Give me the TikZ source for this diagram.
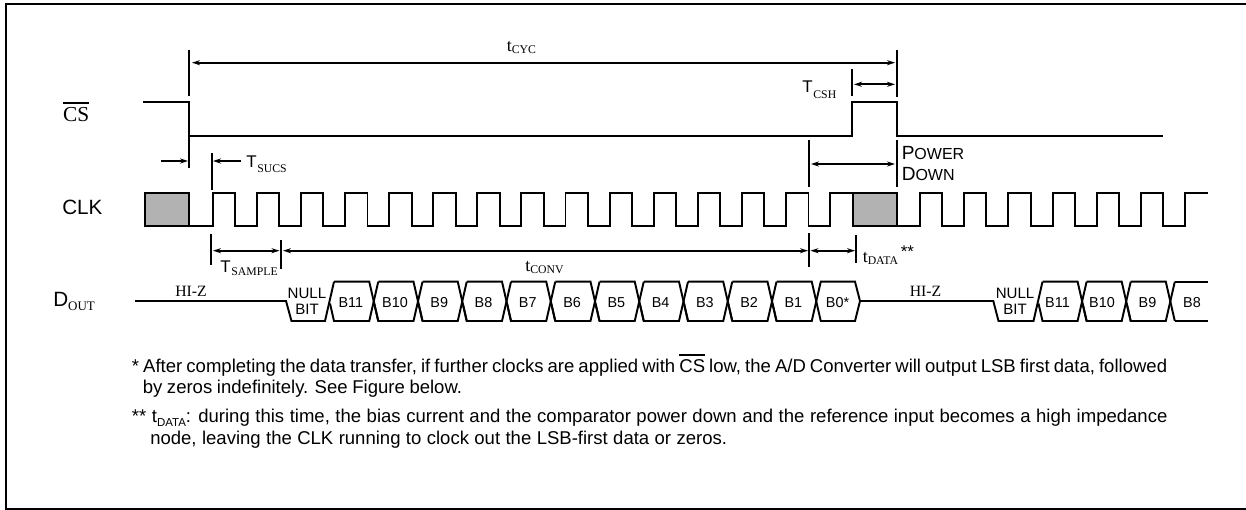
\documentclass[tikz,border=0pt]{standalone}
\usepackage{fontspec}
\usetikzlibrary{arrows.meta}
\setmainfont{Liberation Sans}
\newfontfamily\serifface{Liberation Serif}
\tikzset{
  x=0.75pt,y=-0.75pt,
  wave/.style={line width=1.45pt,line join=miter},
  dim/.style={line width=1.4pt},
  arr/.style={line width=1.4pt,{Stealth[length=6pt,width=3.8pt]}-{Stealth[length=6pt,width=3.8pt]}},
  arrone/.style={line width=1.4pt,-{Stealth[length=6pt,width=3.8pt]}},
  lab/.style={inner sep=0pt,anchor=base west},
  bits/.style={inner sep=0pt,font=\fontsize{10.8pt}{12pt}\selectfont},
  nullbit/.style={inner sep=0pt,align=center,font=\fontsize{11.3pt}{12.4pt}\selectfont},
  note/.style={inner sep=0pt,anchor=base west,font=\fontsize{13.9pt}{16pt}\selectfont},
}
\newcommand{\subsc}[2][4.2pt]{{\serifface\fontsize{8.8pt}{9pt}\selectfont\raisebox{-#1}{#2}}}
\newcommand{\tlab}[2][4.2pt]{{\fontsize{12.7pt}{14pt}\selectfont T}\hspace{0.6pt}\subsc[#1]{#2}}
\newcommand{\slab}[1]{{\serifface\fontsize{13.5pt}{14pt}\selectfont t}\subsc[1.2pt]{#1}}
\newcommand{\hiz}{{\serifface\fontsize{11.8pt}{14pt}\selectfont HI-Z}}
\newcommand{\nsub}[1]{\raisebox{-2.8pt}{\fontsize{8.6pt}{9pt}\selectfont #1}}
\newcommand{\ovl}[2]{\setbox0\hbox{#2}\rlap{\raisebox{#1}{\rule{\wd0}{1.4pt}}}\box0 }
\begin{document}
\begin{tikzpicture}
\useasboundingbox (0,0) rectangle (1246,510);
\draw[line width=1.6pt] (1250,4.3) -- (6.2,4.3) -- (6.2,509) -- (1250,509);

% CS
\draw[wave] (143,101.7) -- (189,101.7) -- (189,135.7) -- (852,135.7) -- (852,101.7) -- (897,101.7) -- (897,135.7) -- (1163,135.7);

% CLK
\fill[gray!60] (145,193) rectangle (189,225.7);
\fill[gray!60] (853,193) rectangle (897,225.7);
\draw[wave] (145,225.7) rectangle (189,193);
\draw[wave] (853,225.7) rectangle (897,193);
\draw[wave] (189,225.7)
  \foreach \k in {0,...,14} { -- ({212.7+44.1*\k},225.7) -- ({212.7+44.1*\k},193) -- ({235.2+44.1*\k},193) -- ({235.2+44.1*\k},225.7) }
  -- (853,225.7);
\draw[wave] (897,225.7)
  \foreach \k in {0,...,5} { -- ({920+44.2*\k},225.7) -- ({920+44.2*\k},193) -- ({942.2+44.2*\k},193) -- ({942.2+44.2*\k},225.7) }
  -- (1185,225.7) -- (1185,193) -- (1207.5,193);

% Dimension ticks
\coordinate (c1t) at (189,50); \coordinate (c1b) at (189,96);
\coordinate (c2t) at (189,136); \coordinate (c2b) at (189,168);
\coordinate (e1t) at (897,50); \coordinate (e1b) at (897,97);
\coordinate (e2t) at (897,140); \coordinate (e2b) at (897,187);
\coordinate (h1t) at (852,69); \coordinate (h1b) at (852,96);
\coordinate (s1t) at (212,153); \coordinate (s1b) at (212,190);
\coordinate (p1t) at (809,140); \coordinate (p1b) at (809,187);
\coordinate (a1t) at (210.7,234); \coordinate (a1b) at (210.7,265);
\coordinate (a2t) at (281,240); \coordinate (a2b) at (281,269);
\coordinate (a3t) at (809,233); \coordinate (a3b) at (809,267);
\coordinate (a4t) at (856,235); \coordinate (a4b) at (856,263);
\foreach \p in {c1,c2,e1,e2,h1,s1,p1,a1,a2,a3,a4} \draw[dim] (\p t) -- (\p b);

% Arrows
\draw[arr] (192,62.7) -- (895,62.7);
\draw[arr] (854,84.3) -- (895,84.3);
\coordinate (su1) at (161,161); \coordinate (su2) at (188,161);
\draw[arrone] (su1) -- (su2);
\coordinate (su3) at (241,161); \coordinate (su4) at (213,161);
\draw[arrone] (su3) -- (su4);
\draw[arr] (811,164) -- (895,164);
\draw[arr] (213,250.7) -- (279.5,250.7);
\draw[arr] (283,250.7) -- (808,250.7);
\draw[arr] (810.5,250.7) -- (855,250.7);

% Data
\draw[wave] (135,301) -- (286,301) -- (291.5,321) -- (325,321) -- (334,281.7);
\draw[wave] (860,301) -- (993.3,301) -- (998.5,321) -- (1033.5,321) -- (1042.5,281.7);
\foreach \k in {0,...,10} {
  \pgfmathsetmacro{\cl}{329.5+44.25*\k}
  \pgfmathsetmacro{\cr}{329.5+44.25*(\k+1)}
  \draw[wave] (\cl+4.5,281.7) -- (\cr-4.5,281.7) -- (\cr+4.5,321);
  \draw[wave] (\cl+0.5,303.5) -- (\cl+4.5,321) -- (\cr-4.5,321) -- (\cr+4.5,281.7);
}
\draw[wave] (820,281.7) -- (855,281.7) -- (860,301) -- (855,321) -- (820,321);
\foreach \k in {0,1,2} {
  \pgfmathsetmacro{\cl}{1038+44.1*\k}
  \pgfmathsetmacro{\cr}{1038+44.1*(\k+1)}
  \draw[wave] (\cl+4.5,281.7) -- (\cr-4.5,281.7) -- (\cr+4.5,321);
  \draw[wave] (\cl+0.5,303.5) -- (\cl+4.5,321) -- (\cr-4.5,321) -- (\cr+4.5,281.7);
}
\draw[wave] (1174.5,281.7) -- (1207.5,281.7);
\draw[wave] (1174.5,321) -- (1207.5,321);

% Bit labels
\node[nullbit] (n1) at (307,301.5) {NULL\\BIT};
\node[nullbit] (n2) at (1015,301.5) {NULL\\BIT};
\foreach \t [count=\i from 0] in {B11,B10,B9,B8,B7,B6,B5,B4,B3,B2,B1,B0*}
  \node[bits] (b\i) at ({350.8+44.25*\i},302.7) {\t};
\foreach \t/\xp [count=\i from 0] in {B11/1057.5,B10/1102,B9/1147.5,B8/1192}
  \node[bits] (c\i) at (\xp,302.7) {\t};

% Labels
\node[lab] (lcyc) at (506.5,51.5) {\slab{CYC}};
\node[lab] (lcsh) at (802,92.5) {\tlab{CSH}};
\node[lab] (lsucs) at (246,167) {\tlab{SUCS}};
\node[lab] (lsamp) at (220,272.5) {\tlab[2.6pt]{SAMPLE}};
\node[lab] (lconv) at (525,271.7) {\slab{CONV}};
\node[lab] (ldata) at (862.5,262.5) {\slab{DATA}};
\node[lab,font=\fontsize{12.7pt}{14pt}\selectfont] (lstar) at (900.5,257) {**};
\node[lab,font=\fontsize{14.3pt}{14pt}\selectfont] (lp) at (901.5,159) {P{\fontsize{12pt}{12pt}\selectfont OWER}};
\node[lab,font=\fontsize{14.3pt}{14pt}\selectfont] (ld) at (901.5,180) {D{\fontsize{12pt}{12pt}\selectfont OWN}};
\node[lab] (hz1) at (175,296.7) {\hiz};
\node[lab] (hz2) at (909.5,296.7) {\hiz};

% Signal names
\node[lab,font=\fontsize{16pt}{18pt}\selectfont\serifface] (cs) at (62.8,121.7) {\ovl{13.6pt}{CS}};
\node[lab,font=\fontsize{15.5pt}{18pt}\selectfont] (clk) at (62,214) {CLK};
\node[lab,font=\fontsize{15.5pt}{18pt}\selectfont] (dout) at (53,306.7) {D{\serifface\fontsize{9.75pt}{10pt}\selectfont\raisebox{-3pt}{OUT}}};

% Notes
\node[note] (n1a) at (131.7,372.3) {\spaceskip=3.05pt * After completing the data transfer, if further clocks are applied with \ovl{12.6pt}{CS} low, the A/D Converter will output LSB first data, followed};
\node[note] (n1b) at (142.5,393.3) {\spaceskip=3.5pt by zeros indefinitely. See Figure below.};
\node[note] (n2a) at (131.7,422.3) {\spaceskip=4.15pt ** t\nsub{DATA}: during this time, the bias current and the comparator power down and the reference input becomes a high impedance};
\node[note] (n2b) at (150,444.3) {\spaceskip=4.05pt node, leaving the CLK running to clock out the LSB-first data or zeros.};
\end{tikzpicture}
\end{document}
